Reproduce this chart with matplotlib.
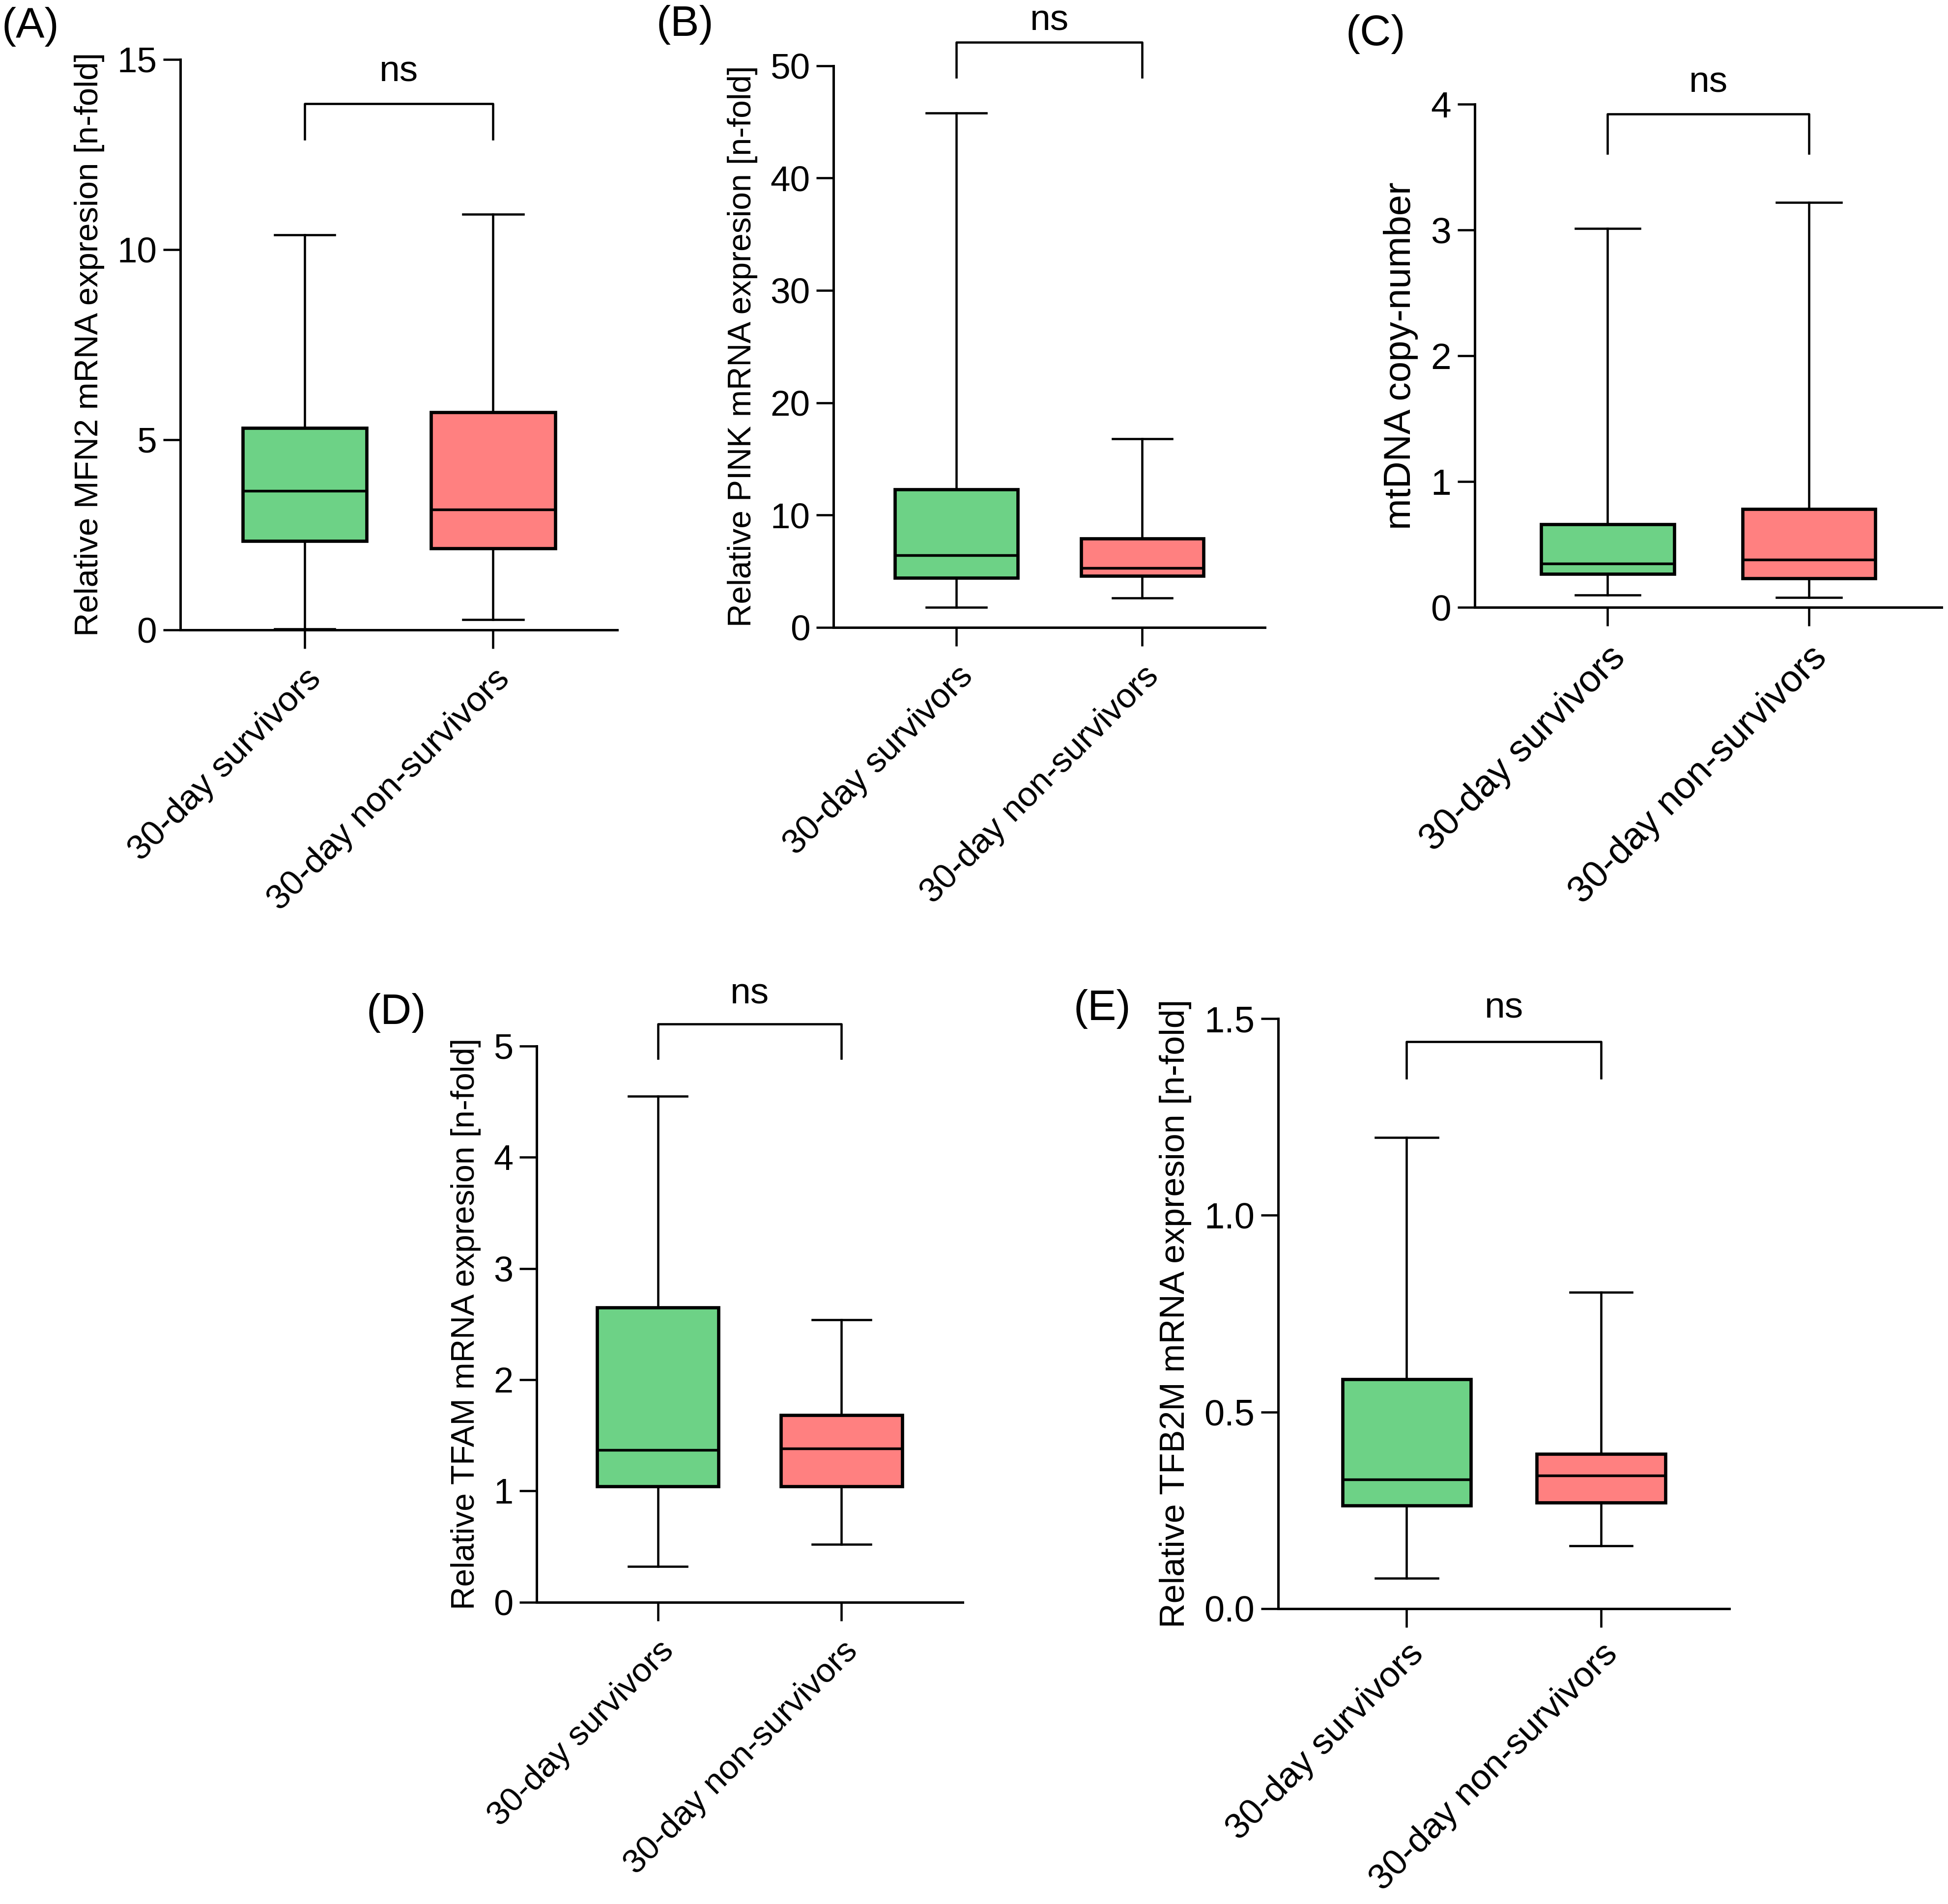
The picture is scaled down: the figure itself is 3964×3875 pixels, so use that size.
import matplotlib
matplotlib.use('Agg')
import matplotlib.pyplot as plt
import matplotlib as mpl

mpl.rcParams['font.family'] = ['Liberation Sans', 'DejaVu Sans']
mpl.rcParams['font.size'] = 16
mpl.rcParams['axes.spines.top'] = False
mpl.rcParams['axes.spines.right'] = False

groups = ['30-day survivors', '30-day non-survivors']
green = '#6DD286'
pink = '#FF8080'

# whislo, q1, median, q3, whishi
mfn2_surv = [0.03, 2.34, 3.66, 5.31, 10.39]
mfn2_non = [0.27, 2.14, 3.17, 5.72, 10.93]
pink1_surv = [1.8, 4.4, 6.4, 12.3, 45.8]
pink1_non = [2.6, 4.6, 5.3, 7.9, 16.8]
mtdna_surv = [0.10, 0.265, 0.35, 0.66, 3.01]
mtdna_non = [0.08, 0.23, 0.38, 0.78, 3.22]
tfam_surv = [0.32, 1.04, 1.37, 2.65, 4.55]
tfam_non = [0.52, 1.04, 1.38, 1.68, 2.54]
tfb2m_surv = [0.078, 0.262, 0.328, 0.583, 1.198]
tfb2m_non = [0.16, 0.27, 0.339, 0.394, 0.805]

# bracket: bottom of legs, top bar, ns text
mfn2_bracket = [12.9, 13.83, 14.67]
pink1_bracket = [49.0, 52.1, 54.0]
mtdna_bracket = [3.61, 3.92, 4.17]
tfam_bracket = [4.89, 5.2, 5.47]
tfb2m_bracket = [1.349, 1.442, 1.526]


def to_stats(vals):
    lo, q1, med, q3, hi = vals
    return {'whislo': lo, 'q1': q1, 'med': med, 'q3': q3, 'whishi': hi, 'fliers': []}


def panel(fig, rect, surv, non, bracket, ylim, yticks, yticklabels, ylabel,
          letter, letter_xy, sizes, xpad=7):
    ytick_fs, ylabel_fs, xtick_fs = sizes
    ax = fig.add_axes(rect)
    ax.bxp([to_stats(surv), to_stats(non)], positions=[0, 1], widths=0.66,
           capwidths=0.32, patch_artist=True, showfliers=False,
           boxprops=dict(linewidth=1.6, edgecolor='black'),
           medianprops=dict(color='black', linewidth=1.3),
           whiskerprops=dict(color='black', linewidth=1.1),
           capprops=dict(color='black', linewidth=1.1))
    for patch, c in zip(ax.patches, [green, pink]):
        patch.set_facecolor(c)
    ax.set_xlim(-0.66, 1.66)
    ax.set_ylim(*ylim)
    ax.set_yticks(yticks)
    ax.set_yticklabels(yticklabels, fontsize=ytick_fs)
    ax.set_xticks([0, 1])
    ax.set_xticklabels(groups, rotation=45, ha='right', va='top',
                       rotation_mode='anchor', fontsize=xtick_fs)
    ax.tick_params(axis='x', length=9, width=1.1, pad=xpad)
    ax.tick_params(axis='y', length=8.5, width=1.1, pad=3)
    for s in ['left', 'bottom']:
        ax.spines[s].set_linewidth(1.2)
    ax.set_ylabel(ylabel, labelpad=6, fontsize=ylabel_fs)

    leg, top, txt = bracket
    ax.plot([0, 0, 1, 1], [leg, top, top, leg], color='black', lw=1.1, clip_on=False)
    ax.text(0.5, txt, 'ns', ha='center', va='center', fontsize=18, clip_on=False)
    fig.text(letter_xy[0], letter_xy[1], letter, fontsize=21, ha='left', va='center')
    return ax


fig = plt.figure(figsize=(3964 / 300, 3875 / 300), dpi=300)

panel(fig, [0.0926, 0.6692, 0.2243, 0.2996], mfn2_surv, mfn2_non, mfn2_bracket,
      (0, 15), [0, 5, 10, 15], ['0', '5', '10', '15'],
      'Relative MFN2 mRNA expresion [n-fold]', '(A)', (0.001, 0.986),
      (17.5, 16.1, 17.1))
panel(fig, [0.4279, 0.6705, 0.2215, 0.2950], pink1_surv, pink1_non, pink1_bracket,
      (0, 50), [0, 10, 20, 30, 40, 50], ['0', '10', '20', '30', '40', '50'],
      'Relative PINK mRNA expresion [n-fold]', '(B)', (0.337, 0.987),
      (17.5, 15.8, 16.8))
panel(fig, [0.7571, 0.6810, 0.2397, 0.2643], mtdna_surv, mtdna_non, mtdna_bracket,
      (0, 4), [0, 1, 2, 3, 4], ['0', '1', '2', '3', '4'],
      'mtDNA copy-number', '(C)', (0.691, 0.982),
      (18, 18.3, 18.2))
panel(fig, [0.2755, 0.1585, 0.2187, 0.2921], tfam_surv, tfam_non, tfam_bracket,
      (0, 5), [0, 1, 2, 3, 4, 5], ['0', '1', '2', '3', '4', '5'],
      'Relative TFAM mRNA expresion [n-fold]', '(D)', (0.188, 0.468),
      (17.3, 15.8, 16.5))
panel(fig, [0.6562, 0.1551, 0.2316, 0.3099], tfb2m_surv, tfb2m_non, tfb2m_bracket,
      (0, 1.5), [0, 0.5, 1.0, 1.5], ['0.0', '0.5', '1.0', '1.5'],
      'Relative TFB2M mRNA expresion [n-fold]', '(E)', (0.551, 0.470),
      (17.8, 16.8, 17.5), xpad=5)

fig.savefig('out.png', dpi=300)
